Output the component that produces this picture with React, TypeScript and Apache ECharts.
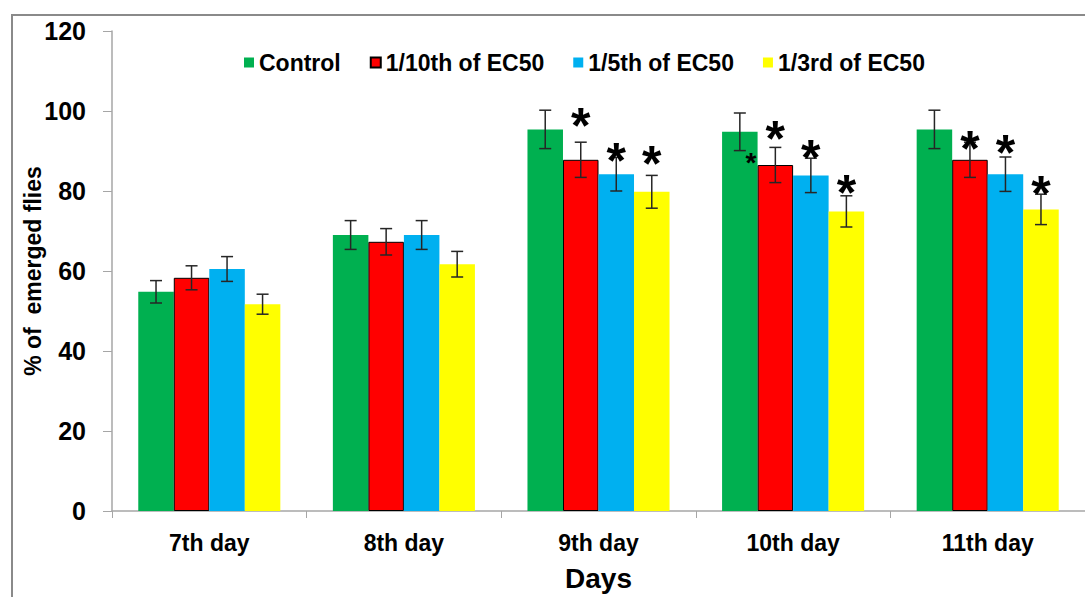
import React, { useEffect, useRef } from "react";
import * as echarts from "echarts";

const categories = ["7th day", "8th day", "9th day", "10th day", "11th day"];
const seriesNames = ["Control", "1/10th of EC50", "1/5th of EC50", "1/3rd of EC50"];

const controlValues = [54.8, 69.0, 95.4, 94.8, 95.4];
const controlErrors = [2.8, 3.6, 4.8, 4.7, 4.8];
const tenthValues = [58.3, 67.3, 87.8, 86.5, 87.8];
const tenthErrors = [3.0, 3.3, 4.4, 4.4, 4.4];
const fifthValues = [60.5, 69.0, 84.2, 83.9, 84.2];
const fifthErrors = [3.1, 3.6, 4.2, 4.3, 4.3];
const thirdValues = [51.7, 61.7, 79.8, 74.9, 75.4];
const thirdErrors = [2.5, 3.2, 4.1, 3.9, 3.8];

// significance asterisks: level (in % units) where each "*" sits, null = none
const controlStars = [null, null, null, 88.9, null];
const tenthStars = [null, null, 99.2, 95.9, 93.4];
const fifthStars = [null, null, 90.4, 91.2, 92.4];
const thirdStars = [null, null, 89.7, 82.4, 82.2];

const yTicks = { min: 0, max: 120, interval: 20 };

const colors = ["#00b050", "#ff0000", "#00b0f0", "#ffff00"];
const FONT = '"Liberation Sans", Arial, sans-serif';
const GAP = 0.27;

export default function App() {
  const ref = useRef<HTMLDivElement>(null);

  useEffect(() => {
    document.body.style.margin = "0";
    const chart = echarts.init(ref.current!, null, { renderer: "svg" });
    const values = [controlValues, tenthValues, fifthValues, thirdValues];
    const errors = [controlErrors, tenthErrors, fifthErrors, thirdErrors];
    const stars = [controlStars, tenthStars, fifthStars, thirdStars];

    const barSeries = seriesNames.map((name, k) => ({
      name,
      type: "bar",
      data: values[k],
      barGap: "0%",
      barCategoryGap: GAP * 100 + "%",
      itemStyle: {
        color: colors[k],
        borderColor: k === 1 ? "#000" : colors[k],
        borderWidth: k === 1 ? 1 : 0,
      },
      z: 2,
    }));

    const errSeries = seriesNames.map((name, k) => ({
      type: "custom",
      name: name + " error",
      data: values[k].map((v, i) => [i, v, errors[k][i]]),
      z: 5,
      silent: true,
      renderItem: (params: any, api: any) => {
        const ci = api.value(0);
        const v = api.value(1);
        const e = api.value(2);
        const band = api.size([1, 0])[0];
        const bw = (band * (1 - GAP)) / 4;
        const cx = api.coord([ci, 0])[0] + (k - 1.5) * bw;
        const yt = api.coord([ci, v + e])[1];
        const yb = api.coord([ci, v - e])[1];
        const cap = 6;
        const st = { stroke: "#262626", lineWidth: 1.5 };
        return {
          type: "group",
          children: [
            { type: "line", shape: { x1: cx, y1: yt, x2: cx, y2: yb }, style: st },
            { type: "line", shape: { x1: cx - cap, y1: yt, x2: cx + cap, y2: yt }, style: st },
            { type: "line", shape: { x1: cx - cap, y1: yb, x2: cx + cap, y2: yb }, style: st },
          ],
        };
      },
    }));

    const starSeries = seriesNames.map((name, k) => ({
      type: "custom",
      name: name + " sig",
      data: stars[k]
        .map((s, i) => (s == null ? null : [i, s]))
        .filter((d) => d !== null),
      z: 6,
      silent: true,
      renderItem: (params: any, api: any) => {
        const ci = api.value(0);
        const s = api.value(1);
        const band = api.size([1, 0])[0];
        const bw = (band * (1 - GAP)) / 4;
        const small = k === 0;
        const fs = small ? 28 : 50;
        const cx = api.coord([ci, 0])[0] + (k - 1.5) * bw + (small ? 11 : 0);
        const cy = api.coord([ci, s])[1] + 0.24 * fs;
        return {
          type: "text",
          style: {
            text: "*",
            x: cx,
            y: cy,
            fontSize: fs,
            fontWeight: "bold",
            fontFamily: FONT,
            fill: "#000",
            align: "center",
            verticalAlign: "middle",
          },
        };
      },
    }));

    chart.setOption({
      animation: false,
      graphic: [
        {
          type: "rect",
          silent: true,
          z: -10,
          shape: { x: 12, y: 15, width: 1100, height: 620 },
          style: { fill: "none", stroke: "#8a8a8a", lineWidth: 2 },
        },
      ],
      legend: {
        data: seriesNames,
        left: 239,
        top: 46,
        itemWidth: 10,
        itemHeight: 10,
        itemGap: 29,
        icon: "rect",
        textStyle: { fontSize: 23, fontWeight: "bold", fontFamily: FONT, color: "#000" },
      },
      grid: { left: 112, top: 31, width: 975, height: 481, containLabel: false },
      xAxis: {
        type: "category",
        data: categories,
        name: "Days",
        nameLocation: "middle",
        nameGap: 53,
        nameTextStyle: { fontSize: 28, fontWeight: "bold", fontFamily: FONT, color: "#000" },
        axisLine: { lineStyle: { color: "#a6a6a6", width: 1.5 } },
        axisTick: { show: true, length: 7, lineStyle: { color: "#a6a6a6" } },
        axisLabel: { margin: 20, fontSize: 23, fontWeight: "bold", fontFamily: FONT, color: "#000" },
      },
      yAxis: {
        type: "value",
        min: yTicks.min,
        max: yTicks.max,
        interval: yTicks.interval,
        name: "% of  emerged flies",
        nameLocation: "middle",
        nameRotate: 90,
        nameGap: 68,
        nameMoveOverlap: false,
        nameTextStyle: { fontSize: 23, fontWeight: "bold", fontFamily: FONT, color: "#000" },
        splitLine: { show: false },
        axisLine: { show: true, lineStyle: { color: "#a6a6a6", width: 1.5 } },
        axisTick: { show: true, length: 9, lineStyle: { color: "#a6a6a6" } },
        axisLabel: { margin: 26, fontSize: 25, fontWeight: "bold", fontFamily: FONT, color: "#000" },
      },
      series: [...barSeries, ...errSeries, ...starSeries],
    });
    return () => chart.dispose();
  }, []);

  return <div ref={ref} style={{ width: 1085, height: 597 }} />;
}
